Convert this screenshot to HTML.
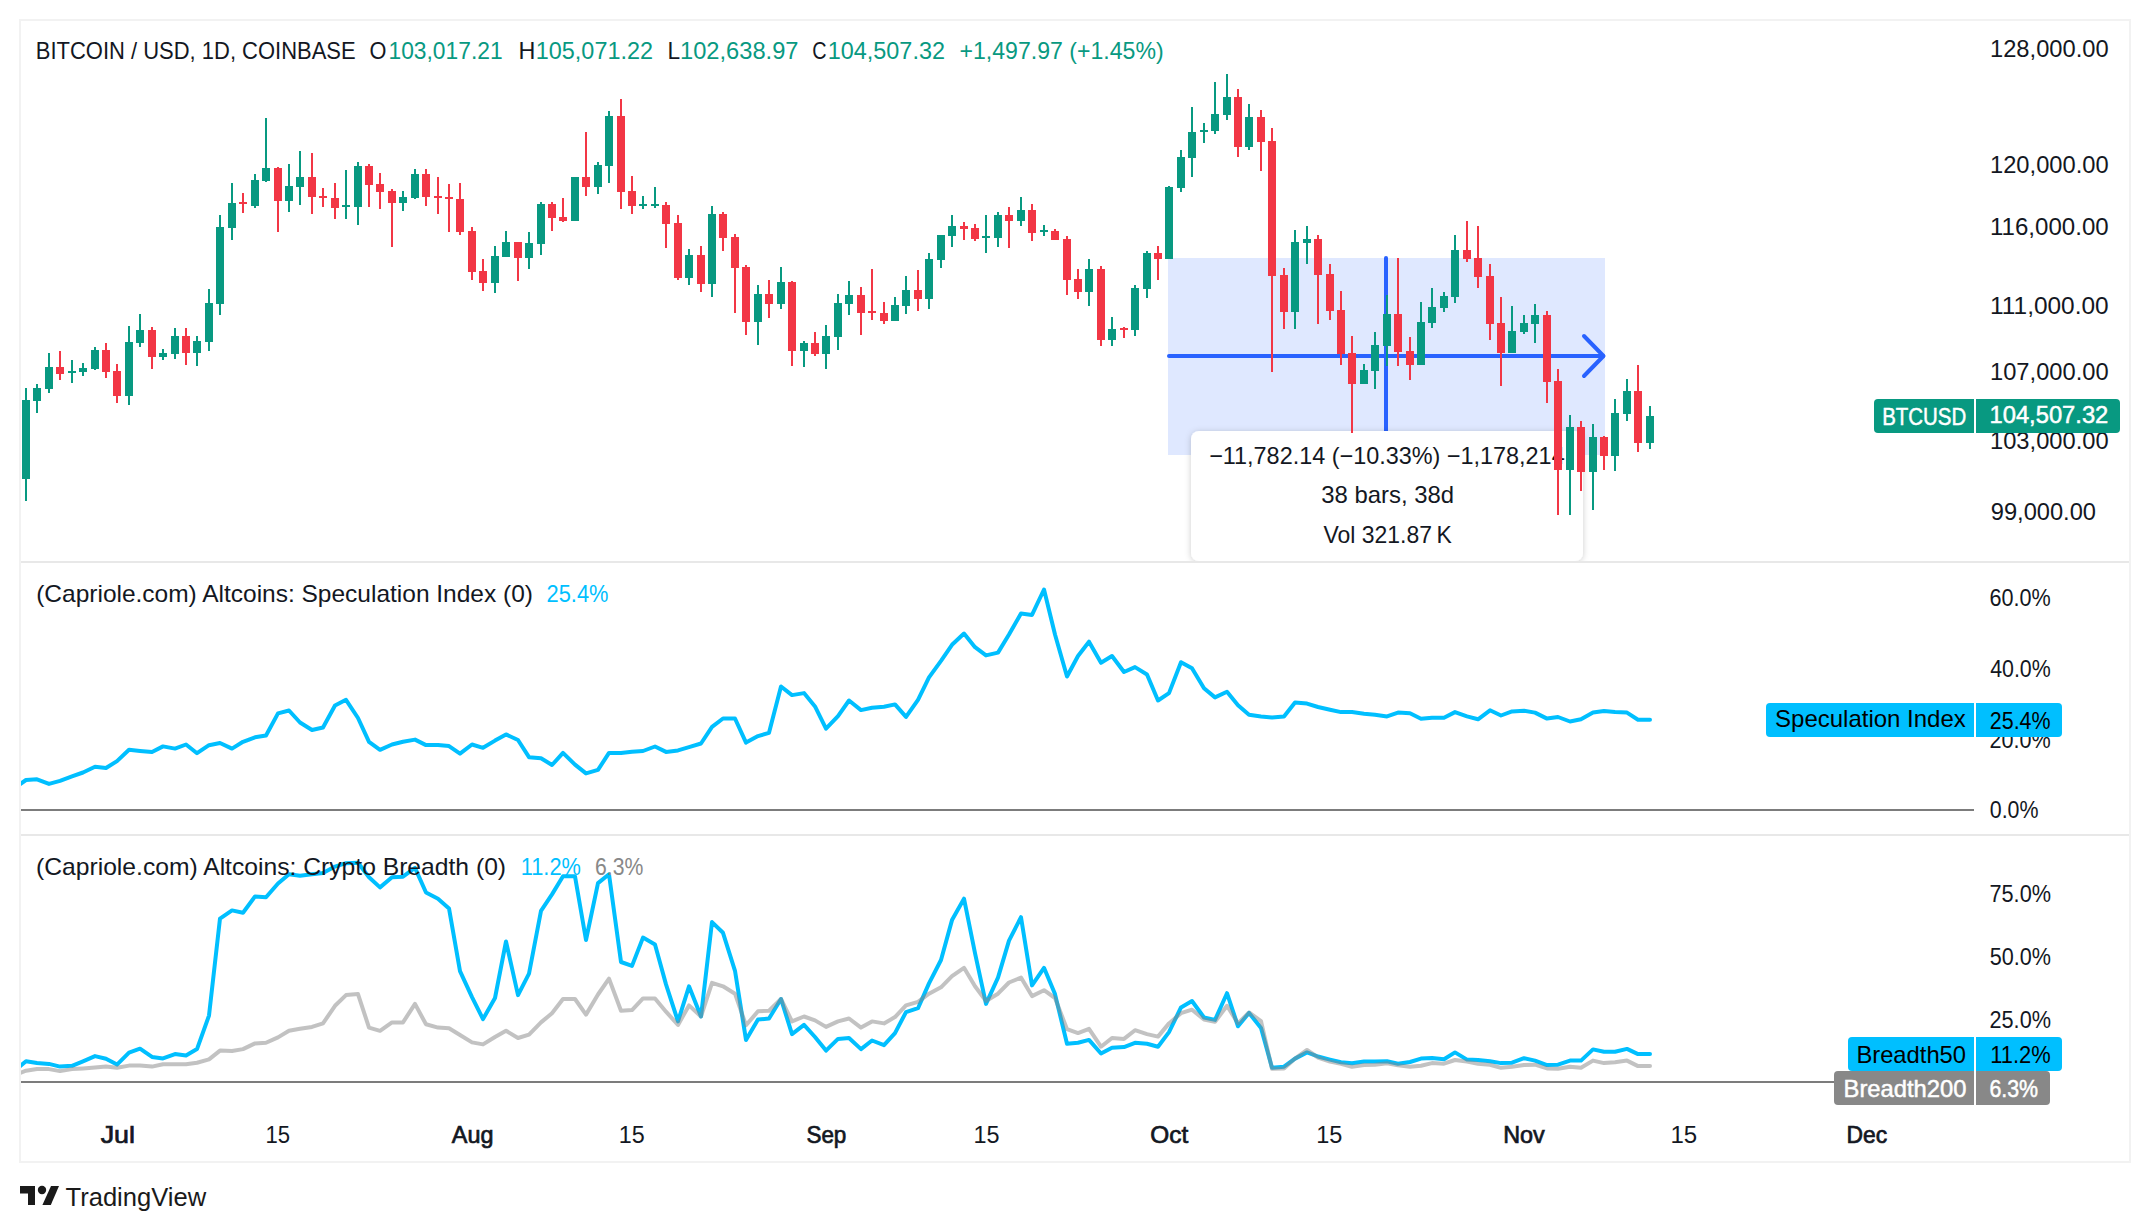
<!DOCTYPE html><html><head><meta charset="utf-8"><style>html,body{margin:0;padding:0;background:#fff;width:2150px;height:1232px;overflow:hidden}svg{display:block;position:absolute;left:0;top:0}text{font-family:"Liberation Sans",sans-serif}</style></head><body>
<svg width="2150" height="1232" viewBox="0 0 2150 1232">
<rect x="20" y="20" width="2110" height="1142" fill="none" stroke="#f2f2f2" stroke-width="2"/>
<rect x="21" y="561" width="2108" height="2" fill="#e8e8e8"/>
<rect x="21" y="834" width="2108" height="2" fill="#e8e8e8"/>
<defs><clipPath id="cp1"><rect x="21" y="21" width="1953" height="540"/></clipPath><clipPath id="cp2"><rect x="21" y="563" width="1953" height="271"/></clipPath><clipPath id="cp3"><rect x="21" y="836" width="1953" height="270"/></clipPath><filter id="sh" x="-10%" y="-20%" width="120%" height="140%"><feDropShadow dx="0" dy="1" stdDeviation="3" flood-color="#000" flood-opacity="0.2"/></filter></defs>
<g clip-path="url(#cp1)">
<rect x="1168" y="258" width="437" height="197" fill="rgba(41,98,255,0.15)"/>
<line x1="1169" y1="356" x2="1603" y2="356" stroke="#2962ff" stroke-width="4" stroke-linecap="round"/>
<polyline points="1584,336 1603.5,356 1584,376" fill="none" stroke="#2962ff" stroke-width="4" stroke-linecap="round" stroke-linejoin="round"/>
<line x1="1386" y1="258" x2="1386" y2="431" stroke="#2962ff" stroke-width="4" stroke-linecap="round"/>
<rect x="1191" y="431" width="392" height="130" rx="8" ry="8" fill="#fff" filter="url(#sh)"/>
<text x="1209.13" y="463.5" font-size="24" fill="#131722" textLength="355.54" lengthAdjust="spacingAndGlyphs">−11,782.14 (−10.33%) −1,178,214</text>
<text x="1321.24" y="503" font-size="24" fill="#131722" textLength="132.80" lengthAdjust="spacingAndGlyphs">38 bars, 38d</text>
<text x="1323.49" y="543.2" font-size="24" fill="#131722" textLength="128.34" lengthAdjust="spacingAndGlyphs">Vol 321.87 K</text>
<path d="M25 388h2V501h-2zM36 384h2V413h-2zM48 353h2V393h-2zM71 360h2V383h-2zM82 363h2V376h-2zM94 347h2V370h-2zM128 326h2V405h-2zM139 314h2V347h-2zM162 349h2V360h-2zM174 328h2V359h-2zM196 336h2V366h-2zM208 289h2V351h-2zM219 215h2V315h-2zM231 183h2V240h-2zM254 174h2V208h-2zM265 118h2V182h-2zM288 164h2V212h-2zM299 151h2V205h-2zM345 170h2V219h-2zM357 162h2V225h-2zM402 191h2V211h-2zM414 169h2V199h-2zM494 246h2V293h-2zM505 231h2V257h-2zM528 232h2V269h-2zM540 202h2V255h-2zM574 177h2V221h-2zM597 162h2V194h-2zM608 111h2V183h-2zM642 196h2V209h-2zM654 187h2V208h-2zM688 249h2V285h-2zM711 206h2V297h-2zM757 285h2V345h-2zM780 267h2V309h-2zM803 341h2V367h-2zM825 325h2V369h-2zM837 294h2V350h-2zM848 281h2V315h-2zM894 297h2V321h-2zM905 276h2V314h-2zM928 253h2V309h-2zM940 235h2V268h-2zM951 215h2V247h-2zM985 215h2V253h-2zM997 212h2V247h-2zM1020 197h2V226h-2zM1043 225h2V236h-2zM1088 259h2V306h-2zM1111 317h2V346h-2zM1134 285h2V336h-2zM1146 251h2V298h-2zM1168 186h2V259h-2zM1180 150h2V192h-2zM1191 107h2V177h-2zM1203 123h2V143h-2zM1214 82h2V134h-2zM1226 74h2V120h-2zM1248 104h2V150h-2zM1294 230h2V329h-2zM1306 226h2V264h-2zM1363 364h2V384h-2zM1374 332h2V389h-2zM1386 295h2V366h-2zM1420 302h2V365h-2zM1431 288h2V328h-2zM1443 292h2V312h-2zM1454 235h2V303h-2zM1511 306h2V353h-2zM1523 315h2V334h-2zM1534 304h2V343h-2zM1569 415h2V515h-2zM1592 424h2V510h-2zM1614 399h2V471h-2zM1626 379h2V421h-2zM1649 406h2V449h-2zM22 400h8V479h-8zM33 388h8V401h-8zM45 367h8V389h-8zM68 371h8V373h-8zM79 368h8V372h-8zM91 350h8V369h-8zM125 342h8V396h-8zM136 330h8V343h-8zM159 353h8V357h-8zM171 336h8V354h-8zM193 341h8V353h-8zM205 303h8V342h-8zM216 227h8V304h-8zM228 203h8V228h-8zM251 180h8V206h-8zM262 168h8V181h-8zM285 186h8V201h-8zM296 177h8V187h-8zM342 205h8V207h-8zM354 166h8V207h-8zM399 197h8V203h-8zM411 174h8V198h-8zM491 256h8V283h-8zM502 242h8V257h-8zM525 243h8V258h-8zM537 204h8V244h-8zM571 177h8V221h-8zM594 165h8V187h-8zM605 116h8V166h-8zM639 204h8V206h-8zM651 204h8V206h-8zM685 255h8V278h-8zM708 214h8V284h-8zM754 294h8V322h-8zM777 282h8V304h-8zM800 343h8V351h-8zM822 336h8V354h-8zM834 303h8V337h-8zM845 295h8V304h-8zM891 305h8V321h-8zM902 290h8V306h-8zM925 259h8V299h-8zM937 235h8V260h-8zM948 226h8V236h-8zM982 236h8V238h-8zM994 215h8V238h-8zM1017 210h8V221h-8zM1040 230h8V232h-8zM1085 269h8V292h-8zM1108 329h8V340h-8zM1131 288h8V330h-8zM1143 253h8V289h-8zM1165 187h8V259h-8zM1177 157h8V188h-8zM1188 132h8V158h-8zM1200 130h8V132h-8zM1211 114h8V131h-8zM1223 97h8V115h-8zM1245 117h8V147h-8zM1291 242h8V312h-8zM1303 239h8V243h-8zM1360 370h8V384h-8zM1371 345h8V371h-8zM1383 314h8V346h-8zM1417 322h8V365h-8zM1428 307h8V323h-8zM1440 296h8V308h-8zM1451 250h8V297h-8zM1508 331h8V353h-8zM1520 323h8V332h-8zM1531 315h8V324h-8zM1566 427h8V470h-8zM1589 437h8V472h-8zM1611 413h8V456h-8zM1623 391h8V414h-8zM1646 416h8V443h-8z" fill="#089981" shape-rendering="crispEdges"/>
<path d="M59 351h2V380h-2zM105 343h2V378h-2zM116 364h2V403h-2zM151 327h2V369h-2zM185 328h2V365h-2zM242 193h2V213h-2zM277 167h2V232h-2zM311 153h2V214h-2zM322 188h2V207h-2zM334 183h2V219h-2zM368 164h2V207h-2zM379 173h2V209h-2zM391 189h2V247h-2zM425 169h2V206h-2zM437 177h2V214h-2zM448 184h2V232h-2zM459 183h2V235h-2zM471 227h2V280h-2zM482 259h2V291h-2zM517 242h2V281h-2zM551 202h2V231h-2zM562 198h2V222h-2zM585 132h2V196h-2zM620 99h2V209h-2zM631 176h2V214h-2zM665 202h2V248h-2zM677 215h2V280h-2zM700 246h2V292h-2zM722 212h2V251h-2zM734 234h2V313h-2zM745 265h2V335h-2zM768 280h2V318h-2zM791 281h2V366h-2zM814 332h2V356h-2zM860 287h2V335h-2zM871 269h2V320h-2zM883 302h2V324h-2zM917 270h2V311h-2zM963 222h2V240h-2zM974 224h2V241h-2zM1008 207h2V248h-2zM1031 204h2V241h-2zM1054 229h2V240h-2zM1066 236h2V295h-2zM1077 269h2V299h-2zM1100 266h2V346h-2zM1123 327h2V338h-2zM1157 246h2V280h-2zM1237 89h2V157h-2zM1260 110h2V171h-2zM1271 128h2V372h-2zM1283 268h2V329h-2zM1317 235h2V324h-2zM1329 264h2V320h-2zM1340 291h2V365h-2zM1351 336h2V433h-2zM1397 258h2V366h-2zM1409 337h2V380h-2zM1466 221h2V262h-2zM1477 226h2V288h-2zM1489 264h2V340h-2zM1500 297h2V386h-2zM1546 311h2V403h-2zM1557 369h2V515h-2zM1580 421h2V491h-2zM1603 436h2V470h-2zM1637 365h2V452h-2zM56 367h8V374h-8zM102 350h8V372h-8zM113 371h8V396h-8zM148 330h8V357h-8zM182 336h8V353h-8zM239 202h8V204h-8zM274 168h8V201h-8zM308 177h8V197h-8zM319 196h8V198h-8zM331 198h8V208h-8zM365 166h8V185h-8zM376 184h8V192h-8zM388 191h8V203h-8zM422 174h8V197h-8zM434 196h8V198h-8zM445 197h8V199h-8zM456 199h8V232h-8zM468 231h8V272h-8zM479 271h8V283h-8zM514 242h8V258h-8zM548 204h8V218h-8zM559 217h8V221h-8zM582 177h8V187h-8zM617 116h8V192h-8zM628 191h8V206h-8zM662 205h8V224h-8zM674 223h8V278h-8zM697 255h8V284h-8zM719 214h8V238h-8zM731 237h8V268h-8zM742 267h8V322h-8zM765 294h8V304h-8zM788 282h8V351h-8zM811 343h8V354h-8zM857 295h8V313h-8zM868 311h8V313h-8zM880 313h8V321h-8zM914 290h8V299h-8zM960 226h8V229h-8zM971 228h8V239h-8zM1005 215h8V221h-8zM1028 210h8V233h-8zM1051 231h8V240h-8zM1063 239h8V280h-8zM1074 279h8V292h-8zM1097 269h8V340h-8zM1120 328h8V330h-8zM1154 253h8V259h-8zM1234 97h8V147h-8zM1257 117h8V142h-8zM1268 141h8V276h-8zM1280 275h8V312h-8zM1314 239h8V275h-8zM1326 274h8V311h-8zM1337 310h8V354h-8zM1348 353h8V384h-8zM1394 314h8V352h-8zM1406 351h8V365h-8zM1463 250h8V259h-8zM1474 258h8V277h-8zM1486 276h8V324h-8zM1497 323h8V353h-8zM1543 315h8V382h-8zM1554 381h8V470h-8zM1577 427h8V472h-8zM1600 437h8V456h-8zM1634 391h8V443h-8z" fill="#f23645" shape-rendering="crispEdges"/>
</g>
<g clip-path="url(#cp2)">
<rect x="21" y="809" width="1953" height="2" fill="#7c7c7c"/>
<polyline points="14.5,788 26.0,780 37.0,779.3 49.0,783.9 60.0,780.9 72.0,776.4 83.0,772.5 95.0,766.8 106.0,768 117.0,761.1 129.0,749.8 140.0,750.9 152.0,752 163.0,746.4 175.0,748.6 186.0,744.5 197.0,753.2 209.0,745.2 220.0,743 232.0,748.6 243.0,741.8 255.0,737.3 266.0,735.5 278.0,713.4 289.0,710.5 300.0,722.5 312.0,730 323.0,727.5 335.0,705.5 346.0,699.8 358.0,718 369.0,741.8 380.0,749.8 392.0,744.5 403.0,741.8 415.0,739.6 426.0,745.1 438.0,744.9 449.0,746.1 460.0,753.7 472.0,744.5 483.0,747.8 495.0,740.6 506.0,734.4 518.0,740 529.0,757.2 541.0,758.2 552.0,765 563.0,752.9 575.0,764.6 586.0,773.4 598.0,769.9 609.0,752.9 621.0,752.9 632.0,751.7 643.0,751 655.0,746.5 666.0,751.9 678.0,750.4 689.0,747.1 701.0,743.5 712.0,726.9 723.0,718.5 735.0,718.5 746.0,742.6 758.0,736.1 769.0,732.8 781.0,686.5 792.0,695.1 804.0,693.1 815.0,706.4 826.0,728.6 838.0,716.1 849.0,700.5 861.0,710.1 872.0,707.7 884.0,706.7 895.0,704.4 906.0,716.9 918.0,699.9 929.0,677.4 941.0,660.8 952.0,644.8 964.0,633.5 975.0,647.2 986.0,655.4 998.0,652.6 1009.0,634.5 1021.0,613.4 1032.0,614.9 1044.0,589.5 1055.0,634.5 1067.0,676.5 1078.0,656 1089.0,641.7 1101.0,662.8 1112.0,656 1124.0,672 1135.0,667.1 1147.0,674.5 1158.0,700.5 1169.0,693.1 1181.0,662.2 1192.0,668.3 1204.0,688.2 1215.0,697.4 1227.0,691.8 1238.0,705.2 1249.0,714.8 1261.0,716.4 1272.0,717.5 1284.0,716.6 1295.0,702.5 1307.0,703.6 1318.0,707 1330.0,709.7 1341.0,712.1 1352.0,712.1 1364.0,713.7 1375.0,714.8 1387.0,716.4 1398.0,712.6 1410.0,713.2 1421.0,718.8 1432.0,717.7 1444.0,717.7 1455.0,712.1 1467.0,716.4 1478.0,719.3 1490.0,710.3 1501.0,715.5 1512.0,711.4 1524.0,710.8 1535.0,712.6 1547.0,718.6 1558.0,717 1570.0,721.5 1581.0,719.3 1593.0,712.6 1604.0,711 1615.0,711.9 1627.0,712.6 1638.0,719.7 1650.0,719.7" fill="none" stroke="#00bfff" stroke-width="4" stroke-linejoin="round" stroke-linecap="round"/>
</g>
<g clip-path="url(#cp3)">
<rect x="21" y="1081" width="1953" height="2" fill="#7c7c7c"/>
<polyline points="14.5,1070.7 26.0,1061.3 37.0,1062.9 49.0,1063.9 60.0,1066.6 72.0,1065.8 83.0,1061.3 95.0,1056.1 106.0,1058.8 117.0,1064.6 129.0,1052.6 140.0,1048.7 152.0,1056.9 163.0,1058.4 175.0,1054.1 186.0,1055.5 197.0,1049.1 209.0,1015.6 220.0,918.6 232.0,910.4 243.0,912.7 255.0,896.4 266.0,897.3 278.0,883.5 289.0,874.3 300.0,875.7 312.0,874.3 323.0,873 335.0,866.6 346.0,863.2 358.0,862.7 369.0,877.3 380.0,887.4 392.0,877.3 403.0,876.7 415.0,867.9 426.0,892.5 438.0,898.7 449.0,908.4 460.0,971.2 472.0,997.1 483.0,1019.1 495.0,998 506.0,941.5 518.0,995.1 529.0,973.7 541.0,910.8 552.0,894.4 563.0,876.3 575.0,876.3 586.0,940 598.0,883.1 609.0,874.3 621.0,962 632.0,965.9 643.0,937.6 655.0,944.5 666.0,984.4 678.0,1021.4 689.0,986.3 701.0,1016.5 712.0,922.1 723.0,932.8 735.0,970.8 746.0,1039.9 758.0,1019.5 769.0,1018.5 781.0,999 792.0,1034.1 804.0,1024.9 815.0,1037 826.0,1050.6 838.0,1038.9 849.0,1038 861.0,1049.1 872.0,1040.5 884.0,1045.2 895.0,1033.1 906.0,1012.1 918.0,1008.2 929.0,983.4 941.0,960 952.0,920.1 964.0,898.7 975.0,953.2 986.0,1003.9 998.0,977.6 1009.0,940.6 1021.0,917.2 1032.0,985.4 1044.0,967.8 1055.0,994.1 1067.0,1043.8 1078.0,1042.8 1089.0,1039.9 1101.0,1053.5 1112.0,1047.7 1124.0,1047.1 1135.0,1042.8 1147.0,1043.8 1158.0,1046.7 1169.0,1032.1 1181.0,1007.4 1192.0,1001 1204.0,1017.5 1215.0,1019.9 1227.0,993.2 1238.0,1026.3 1249.0,1012.9 1261.0,1027.9 1272.0,1067.8 1284.0,1066.7 1295.0,1058.6 1307.0,1052.4 1318.0,1056.5 1330.0,1059.6 1341.0,1062.2 1352.0,1063.3 1364.0,1061.6 1375.0,1061.6 1387.0,1061.2 1398.0,1063.7 1410.0,1062 1421.0,1058.6 1432.0,1058 1444.0,1059.2 1455.0,1052.4 1467.0,1059.6 1478.0,1060 1490.0,1061.2 1501.0,1063.1 1512.0,1062.7 1524.0,1058.2 1535.0,1060.6 1547.0,1065.1 1558.0,1064.7 1570.0,1060.6 1581.0,1060.6 1593.0,1049.4 1604.0,1051.8 1615.0,1051.8 1627.0,1048.9 1638.0,1054.1 1650.0,1054.1" fill="none" stroke="#00bfff" stroke-width="4" stroke-linejoin="round" stroke-linecap="round"/>
<polyline points="14.5,1075 26.0,1070.7 37.0,1069.1 49.0,1069.1 60.0,1071.1 72.0,1069.1 83.0,1068.5 95.0,1067.6 106.0,1066.6 117.0,1067.8 129.0,1065.6 140.0,1065.6 152.0,1066.6 163.0,1064.3 175.0,1064.3 186.0,1064.3 197.0,1062.7 209.0,1059.4 220.0,1050.6 232.0,1051 243.0,1049.1 255.0,1043.4 266.0,1042.8 278.0,1037.4 289.0,1030.8 300.0,1028.8 312.0,1026.9 323.0,1023.4 335.0,1005.8 346.0,995.1 358.0,994.1 369.0,1027.6 380.0,1030.8 392.0,1022.4 403.0,1022.4 415.0,1003.9 426.0,1024.3 438.0,1027.6 449.0,1028.2 460.0,1035 472.0,1042.4 483.0,1044.4 495.0,1037 506.0,1030.8 518.0,1038 529.0,1034.6 541.0,1022.4 552.0,1013.2 563.0,999 575.0,999 586.0,1014.6 598.0,994.5 609.0,978.6 621.0,1010.7 632.0,1010.1 643.0,998.4 655.0,998.4 666.0,1011.7 678.0,1024.9 689.0,1005.4 701.0,1016.5 712.0,982.8 723.0,986.3 735.0,993.7 746.0,1025.3 758.0,1011.3 769.0,1010.7 781.0,999 792.0,1021.4 804.0,1016.5 815.0,1020.4 826.0,1026.9 838.0,1021.4 849.0,1018.5 861.0,1027.6 872.0,1021.4 884.0,1023.4 895.0,1017.1 906.0,1005.4 918.0,1001.9 929.0,993.7 941.0,987.3 952.0,976.2 964.0,967.8 975.0,986.3 986.0,1001 998.0,993.7 1009.0,982.5 1021.0,977.6 1032.0,996.1 1044.0,990.2 1055.0,998 1067.0,1029.2 1078.0,1033.1 1089.0,1028.8 1101.0,1046.7 1112.0,1038 1124.0,1038.9 1135.0,1030.2 1147.0,1034.1 1158.0,1036.6 1169.0,1023.4 1181.0,1013.2 1192.0,1009.7 1204.0,1019.5 1215.0,1021.8 1227.0,1005.8 1238.0,1023.4 1249.0,1012.5 1261.0,1021.1 1272.0,1068.8 1284.0,1068.4 1295.0,1058.6 1307.0,1050 1318.0,1057.5 1330.0,1061.6 1341.0,1063.7 1352.0,1066.7 1364.0,1065.1 1375.0,1064.7 1387.0,1063.3 1398.0,1065.3 1410.0,1066.7 1421.0,1065.7 1432.0,1063.1 1444.0,1063.7 1455.0,1060 1467.0,1061.6 1478.0,1063.7 1490.0,1064.7 1501.0,1067.8 1512.0,1066.7 1524.0,1065.1 1535.0,1064.7 1547.0,1068.4 1558.0,1068.8 1570.0,1066.7 1581.0,1067.8 1593.0,1060.6 1604.0,1063.1 1615.0,1062.2 1627.0,1060.6 1638.0,1066.1 1650.0,1066.1" fill="none" stroke="#858585" stroke-opacity="0.5" stroke-width="4" stroke-linejoin="round" stroke-linecap="round"/>
</g>
<text x="35.84" y="58.7" font-size="24" fill="#131722" textLength="319.81" lengthAdjust="spacingAndGlyphs">BITCOIN / USD, 1D, COINBASE</text>
<text x="369.62" y="58.7" font-size="24" fill="#131722" textLength="16.92" lengthAdjust="spacingAndGlyphs">O</text>
<text x="388.49" y="58.7" font-size="24" fill="#089981" textLength="114.14" lengthAdjust="spacingAndGlyphs">103,017.21</text>
<text x="518.43" y="58.7" font-size="24" fill="#131722" textLength="16.89" lengthAdjust="spacingAndGlyphs">H</text>
<text x="535.84" y="58.7" font-size="24" fill="#089981" textLength="117.13" lengthAdjust="spacingAndGlyphs">105,071.22</text>
<text x="667.38" y="58.7" font-size="24" fill="#131722" textLength="12.62" lengthAdjust="spacingAndGlyphs">L</text>
<text x="680.02" y="58.7" font-size="24" fill="#089981" textLength="118.46" lengthAdjust="spacingAndGlyphs">102,638.97</text>
<text x="812.21" y="58.7" font-size="24" fill="#131722" textLength="14.33" lengthAdjust="spacingAndGlyphs">C</text>
<text x="827.74" y="58.7" font-size="24" fill="#089981" textLength="117.23" lengthAdjust="spacingAndGlyphs">104,507.32</text>
<text x="959.55" y="58.7" font-size="24" fill="#089981" textLength="204.05" lengthAdjust="spacingAndGlyphs">+1,497.97 (+1.45%)</text>
<text x="36.23" y="601.5" font-size="24" fill="#131722" textLength="496.70" lengthAdjust="spacingAndGlyphs">(Capriole.com) Altcoins: Speculation Index (0)</text>
<text x="546.61" y="601.5" font-size="24" fill="#00bfff" textLength="61.86" lengthAdjust="spacingAndGlyphs">25.4%</text>
<text x="36.02" y="874.8" font-size="24" fill="#131722" textLength="470.04" lengthAdjust="spacingAndGlyphs">(Capriole.com) Altcoins: Crypto Breadth (0)</text>
<text x="520.77" y="874.8" font-size="24" fill="#00bfff" textLength="60.12" lengthAdjust="spacingAndGlyphs">11.2%</text>
<text x="595.04" y="874.8" font-size="24" fill="#888888" textLength="48.29" lengthAdjust="spacingAndGlyphs">6.3%</text>
<text x="1990.02" y="56.9" font-size="24" fill="#131722" textLength="118.61" lengthAdjust="spacingAndGlyphs">128,000.00</text>
<text x="1990.02" y="172.8" font-size="24" fill="#131722" textLength="118.61" lengthAdjust="spacingAndGlyphs">120,000.00</text>
<text x="1990.00" y="234.9" font-size="24" fill="#131722" textLength="118.67" lengthAdjust="spacingAndGlyphs">116,000.00</text>
<text x="1989.97" y="313.9" font-size="24" fill="#131722" textLength="118.73" lengthAdjust="spacingAndGlyphs">111,000.00</text>
<text x="1990.02" y="379.9" font-size="24" fill="#131722" textLength="118.61" lengthAdjust="spacingAndGlyphs">107,000.00</text>
<text x="1990.02" y="448.5" font-size="24" fill="#131722" textLength="118.61" lengthAdjust="spacingAndGlyphs">103,000.00</text>
<text x="1990.74" y="520.3" font-size="24" fill="#131722" textLength="105.27" lengthAdjust="spacingAndGlyphs">99,000.00</text>
<text x="1989.52" y="605.8" font-size="24" fill="#131722" textLength="61.25" lengthAdjust="spacingAndGlyphs">60.0%</text>
<text x="1990.17" y="676.9" font-size="24" fill="#131722" textLength="60.59" lengthAdjust="spacingAndGlyphs">40.0%</text>
<text x="1989.52" y="747.5" font-size="24" fill="#131722" textLength="61.25" lengthAdjust="spacingAndGlyphs">20.0%</text>
<text x="1989.74" y="818.1" font-size="24" fill="#131722" textLength="48.79" lengthAdjust="spacingAndGlyphs">0.0%</text>
<text x="1989.52" y="901.7" font-size="24" fill="#131722" textLength="61.45" lengthAdjust="spacingAndGlyphs">75.0%</text>
<text x="1989.74" y="965.1" font-size="24" fill="#131722" textLength="61.23" lengthAdjust="spacingAndGlyphs">50.0%</text>
<text x="1989.52" y="1027.9" font-size="24" fill="#131722" textLength="61.45" lengthAdjust="spacingAndGlyphs">25.0%</text>
<rect x="1874" y="399" width="246" height="34" rx="4" ry="4" fill="#089981"/>
<rect x="1974" y="399" width="2" height="34" fill="#fff"/>
<text x="1882.22" y="425.2" font-size="24" fill="#fff" stroke="#fff" stroke-width="0.5" textLength="83.98" lengthAdjust="spacingAndGlyphs">BTCUSD</text>
<text x="1989.47" y="422.8" font-size="24" fill="#fff" stroke="#fff" stroke-width="0.5" textLength="118.87" lengthAdjust="spacingAndGlyphs">104,507.32</text>
<rect x="1766" y="703" width="296" height="34" rx="4" ry="4" fill="#00bfff"/>
<rect x="1974" y="703" width="2" height="34" fill="#fff"/>
<text x="1775.12" y="726.6" font-size="24" fill="#000" textLength="190.63" lengthAdjust="spacingAndGlyphs">Speculation Index</text>
<text x="1989.83" y="728.6" font-size="24" fill="#000" textLength="60.73" lengthAdjust="spacingAndGlyphs">25.4%</text>
<rect x="1848" y="1037" width="214" height="34" rx="4" ry="4" fill="#00bfff"/>
<rect x="1974" y="1037" width="2" height="34" fill="#fff"/>
<text x="1856.40" y="1063" font-size="24" fill="#000" textLength="109.63" lengthAdjust="spacingAndGlyphs">Breadth50</text>
<text x="1990.26" y="1063" font-size="24" fill="#000" textLength="60.43" lengthAdjust="spacingAndGlyphs">11.2%</text>
<rect x="1834" y="1071" width="216" height="34" rx="4" ry="4" fill="#888888"/>
<rect x="1974" y="1071" width="2" height="34" fill="#fff"/>
<text x="1843.55" y="1097" font-size="24" fill="#fff" stroke="#fff" stroke-width="0.5" textLength="122.86" lengthAdjust="spacingAndGlyphs">Breadth200</text>
<text x="1989.38" y="1097" font-size="24" fill="#fff" stroke="#fff" stroke-width="0.5" textLength="48.70" lengthAdjust="spacingAndGlyphs">6.3%</text>
<text x="100.65" y="1142.8" font-size="24" fill="#131722" stroke="#131722" stroke-width="0.7" textLength="34.34" lengthAdjust="spacingAndGlyphs">Jul</text>
<text x="265.44" y="1142.8" font-size="24" fill="#131722" textLength="24.59" lengthAdjust="spacingAndGlyphs">15</text>
<text x="451.85" y="1142.8" font-size="24" fill="#131722" stroke="#131722" stroke-width="0.7" textLength="41.61" lengthAdjust="spacingAndGlyphs">Aug</text>
<text x="618.75" y="1142.8" font-size="24" fill="#131722" textLength="25.94" lengthAdjust="spacingAndGlyphs">15</text>
<text x="806.44" y="1142.8" font-size="24" fill="#131722" stroke="#131722" stroke-width="0.7" textLength="39.89" lengthAdjust="spacingAndGlyphs">Sep</text>
<text x="973.54" y="1142.8" font-size="24" fill="#131722" textLength="26.05" lengthAdjust="spacingAndGlyphs">15</text>
<text x="1150.25" y="1142.8" font-size="24" fill="#131722" stroke="#131722" stroke-width="0.7" textLength="37.93" lengthAdjust="spacingAndGlyphs">Oct</text>
<text x="1316.14" y="1142.8" font-size="24" fill="#131722" textLength="26.16" lengthAdjust="spacingAndGlyphs">15</text>
<text x="1503.18" y="1142.8" font-size="24" fill="#131722" stroke="#131722" stroke-width="0.7" textLength="41.55" lengthAdjust="spacingAndGlyphs">Nov</text>
<text x="1670.50" y="1142.8" font-size="24" fill="#131722" textLength="26.72" lengthAdjust="spacingAndGlyphs">15</text>
<text x="1846.62" y="1142.8" font-size="24" fill="#131722" stroke="#131722" stroke-width="0.7" textLength="40.66" lengthAdjust="spacingAndGlyphs">Dec</text>
<g fill="#1a1a1a"><path d="M20 1186h15v19h-7v-11.5h-8z"/><circle cx="42" cy="1190" r="4.2"/><path d="M51 1186h8l-8.2 19h-8.4z"/></g>
<text x="65.49" y="1205.5" font-size="26.5" fill="#1a1a1a" textLength="140.67" lengthAdjust="spacingAndGlyphs">TradingView</text>
</svg></body></html>
